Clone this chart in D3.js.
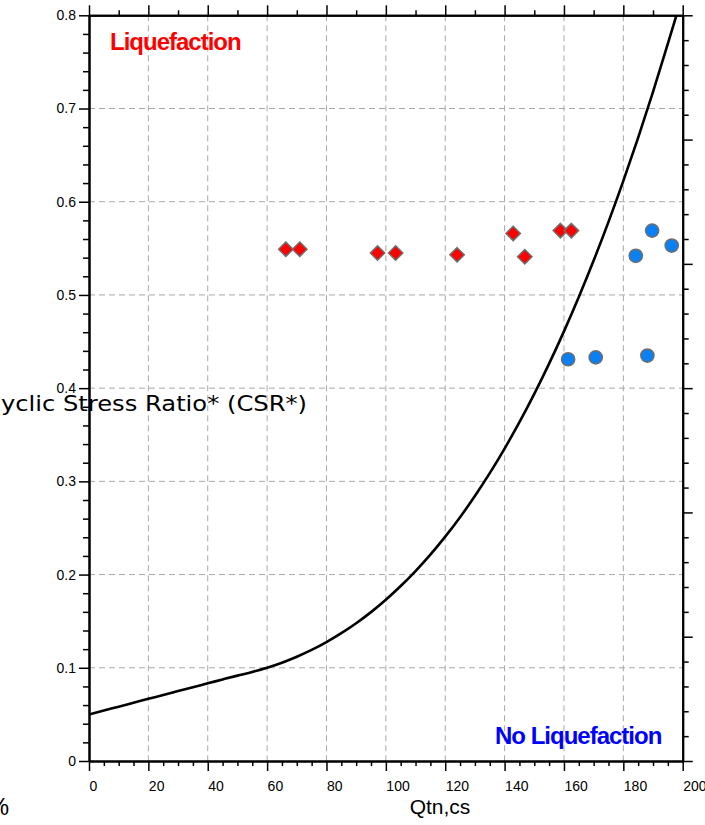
<!DOCTYPE html>
<html>
<head>
<meta charset="utf-8">
<script src="https://cdn.jsdelivr.net/npm/d3@7/dist/d3.min.js"></script>
<style>
  html, body { margin: 0; padding: 0; background: #fff; overflow: hidden; }
  svg { display: block; font-family: "Liberation Sans", Arial, sans-serif; }
</style>
</head>
<body>
<svg id="chart" width="705" height="825"></svg>
<script>
// CPT-based liquefaction triggering: CRR boundary curve and case records
const curveQtn = [0, 5, 10, 15, 20, 25, 30, 35, 40, 45, 50, 55, 60, 65, 70, 75, 80, 85, 90, 95,
  100, 105, 110, 115, 120, 125, 130, 135, 140, 145, 150, 155, 160, 165, 170, 175, 180, 185, 190, 195, 197.9];
const curveCRR = [0.050, 0.0542, 0.0583, 0.0625, 0.0667, 0.0708, 0.0750, 0.0792, 0.0833, 0.0875, 0.0916,
  0.0955, 0.1001, 0.1055, 0.1119, 0.1192, 0.1276, 0.1371, 0.1478, 0.1597, 0.1730, 0.1877, 0.2038, 0.2214,
  0.2407, 0.2616, 0.2843, 0.3088, 0.3352, 0.3635, 0.3939, 0.4263, 0.4609, 0.4978, 0.5369, 0.5784, 0.6224,
  0.6688, 0.7179, 0.7696, 0.800];

// Cases that liquefied (diamonds)
const liqQtn = [66.3, 71.0, 97.2, 103.3, 124.0, 142.9, 146.8, 158.8, 162.5];
const liqCSR = [0.549, 0.549, 0.545, 0.545, 0.543, 0.566, 0.541, 0.569, 0.569];

// Cases with no liquefaction (circles)
const noLiqQtn = [161.4, 170.7, 188.1, 184.2, 189.7, 196.3];
const noLiqCSR = [0.431, 0.433, 0.435, 0.542, 0.569, 0.553];

const xTickValues = [0, 20, 40, 60, 80, 100, 120, 140, 160, 180, 200];
const xTickLabels = ["0", "20", "40", "60", "80", "100", "120", "140", "160", "180", "200"];
const yTickValues = [0, 0.1, 0.2, 0.3, 0.4, 0.5, 0.6, 0.7, 0.8];
const yTickLabels = ["0", "0.1", "0.2", "0.3", "0.4", "0.5", "0.6", "0.7", "0.8"];

const svg = d3.select("#chart");

const x = d3.scaleLinear().domain([0, 200]).range([89, 682.7]);
const y = d3.scaleLinear().domain([0, 0.8]).range([761, 15.3]);
// unlabelled secondary scale on the right-hand side
const yRight = d3.scaleLinear().domain([0, 30]).range([761, 15.3]);

// dashed grid
const grid = svg.append("g").attr("stroke", "#a8a8a8").attr("stroke-width", 1)
  .attr("stroke-dasharray", "6,4").attr("fill", "none");
xTickValues.slice(1, -1).forEach(v => {
  grid.append("line").attr("x1", x(v)).attr("x2", x(v)).attr("y1", y(0.8)).attr("y2", y(0));
});
yTickValues.slice(1, -1).forEach(v => {
  grid.append("line").attr("x1", x(0)).attr("x2", x(200)).attr("y1", y(v)).attr("y2", y(v));
});

function styleAxis(g) {
  g.select(".domain").attr("stroke", "#000").attr("stroke-width", 2);
  g.selectAll(".tick line").attr("stroke", "#000").attr("stroke-width", 1.5);
}

// bottom axis: minor every 5, major every 20
const xMinor = d3.range(0, 201, 5).filter(v => v % 20 !== 0);
svg.append("g").attr("transform", `translate(0,${y(0)})`)
  .call(d3.axisBottom(x).tickValues(xMinor).tickSize(5).tickSizeOuter(0).tickFormat(""))
  .call(styleAxis);
const xAxisB = svg.append("g").attr("transform", `translate(0,${y(0)})`)
  .call(d3.axisBottom(x).tickValues(xTickValues).tickSize(10).tickSizeOuter(0)
    .tickFormat((d, i) => xTickLabels[i]))
  .call(styleAxis);
xAxisB.selectAll(".tick text").attr("text-anchor", "start").attr("y", 20).attr("dy", "0.71em")
  .attr("font-size", 14).attr("font-family", "Liberation Sans, Arial, sans-serif").attr("fill", "#000");

// top axis: minor every 10, major every 20
const xTopMinor = d3.range(10, 200, 20);
svg.append("g").attr("transform", `translate(0,${y(0.8)})`)
  .call(d3.axisTop(x).tickValues(xTopMinor).tickSize(5).tickSizeOuter(0).tickFormat(""))
  .call(styleAxis);
svg.append("g").attr("transform", `translate(0,${y(0.8)})`)
  .call(d3.axisTop(x).tickValues(xTickValues).tickSize(10).tickSizeOuter(0).tickFormat(""))
  .call(styleAxis);

// left axis: minor every 0.02, major every 0.1
const yMinor = d3.range(0, 41, 1).filter(v => v % 5 !== 0).map(v => v / 50);
svg.append("g").attr("transform", `translate(${x(0)},0)`)
  .call(d3.axisLeft(y).tickValues(yMinor).tickSize(6).tickSizeOuter(0).tickFormat(""))
  .call(styleAxis);
const yAxisL = svg.append("g").attr("transform", `translate(${x(0)},0)`)
  .call(d3.axisLeft(y).tickValues(yTickValues).tickSize(10).tickSizeOuter(0).tickPadding(3)
    .tickFormat((d, i) => yTickLabels[i]))
  .call(styleAxis);
yAxisL.selectAll(".tick text").attr("font-size", 14)
  .attr("font-family", "Liberation Sans, Arial, sans-serif").attr("fill", "#000");

// right axis: unlabelled, 6 major divisions with 5 minor each
const rMinor = d3.range(0, 31).filter(v => v % 5 !== 0);
const rMajor = d3.range(0, 31, 5);
svg.append("g").attr("transform", `translate(${x(200)},0)`)
  .call(d3.axisRight(yRight).tickValues(rMinor).tickSize(6).tickSizeOuter(0).tickFormat(""))
  .call(styleAxis);
svg.append("g").attr("transform", `translate(${x(200)},0)`)
  .call(d3.axisRight(yRight).tickValues(rMajor).tickSize(10).tickSizeOuter(0).tickFormat(""))
  .call(styleAxis);

// CRR boundary curve
const curvePts = curveQtn.map((q, i) => [q, curveCRR[i]]);
svg.append("path").datum(curvePts)
  .attr("fill", "none").attr("stroke", "#000").attr("stroke-width", 2.6)
  .attr("stroke-linejoin", "round")
  .attr("d", d3.line().x(d => x(d[0])).y(d => y(d[1])).curve(d3.curveMonotoneX));

// liquefied cases
const liqPts = liqQtn.map((q, i) => [q, liqCSR[i]]);
svg.append("g").selectAll("path").data(liqPts).join("path")
  .attr("d", d => {
    const cx = x(d[0]), cy = y(d[1]), r = 7.2;
    return `M${cx},${cy - r}L${cx + r},${cy}L${cx},${cy + r}L${cx - r},${cy}Z`;
  })
  .attr("fill", "#ff0000").attr("stroke", "#6e6e6e").attr("stroke-width", 1.5);

// non-liquefied cases
const noLiqPts = noLiqQtn.map((q, i) => [q, noLiqCSR[i]]);
svg.append("g").selectAll("circle").data(noLiqPts).join("circle")
  .attr("cx", d => x(d[0])).attr("cy", d => y(d[1])).attr("r", 6.6)
  .attr("fill", "#0a80f5").attr("stroke", "#6e6e6e").attr("stroke-width", 1.5);

// region labels
svg.append("text").attr("x", 110).attr("y", 50)
  .attr("font-family", "Liberation Sans, Arial, sans-serif").attr("font-weight", "bold")
  .attr("font-size", 24).attr("letter-spacing", -1).attr("fill", "#ff0000")
  .text("Liquefaction");
svg.append("text").attr("x", 495).attr("y", 744)
  .attr("font-family", "Liberation Sans, Arial, sans-serif").attr("font-weight", "bold")
  .attr("font-size", 24).attr("letter-spacing", -1).attr("fill", "#0000ff")
  .text("No Liquefaction");

// axis titles
svg.append("text").attr("x", -16).attr("y", 411)
  .attr("font-family", "DejaVu Sans, Verdana, sans-serif")
  .attr("font-size", 22).attr("fill", "#000")
  .attr("textLength", 323).attr("lengthAdjust", "spacingAndGlyphs")
  .text("Cyclic Stress Ratio* (CSR*)");
svg.append("text").attr("x", 440).attr("y", 814).attr("text-anchor", "middle")
  .attr("font-size", 21).attr("fill", "#000")
  .text("Qtn,cs");
svg.append("text").attr("x", 9).attr("y", 815).attr("text-anchor", "end")
  .attr("font-size", 24).attr("fill", "#000")
  .text("%");
</script>
</body>
</html>
